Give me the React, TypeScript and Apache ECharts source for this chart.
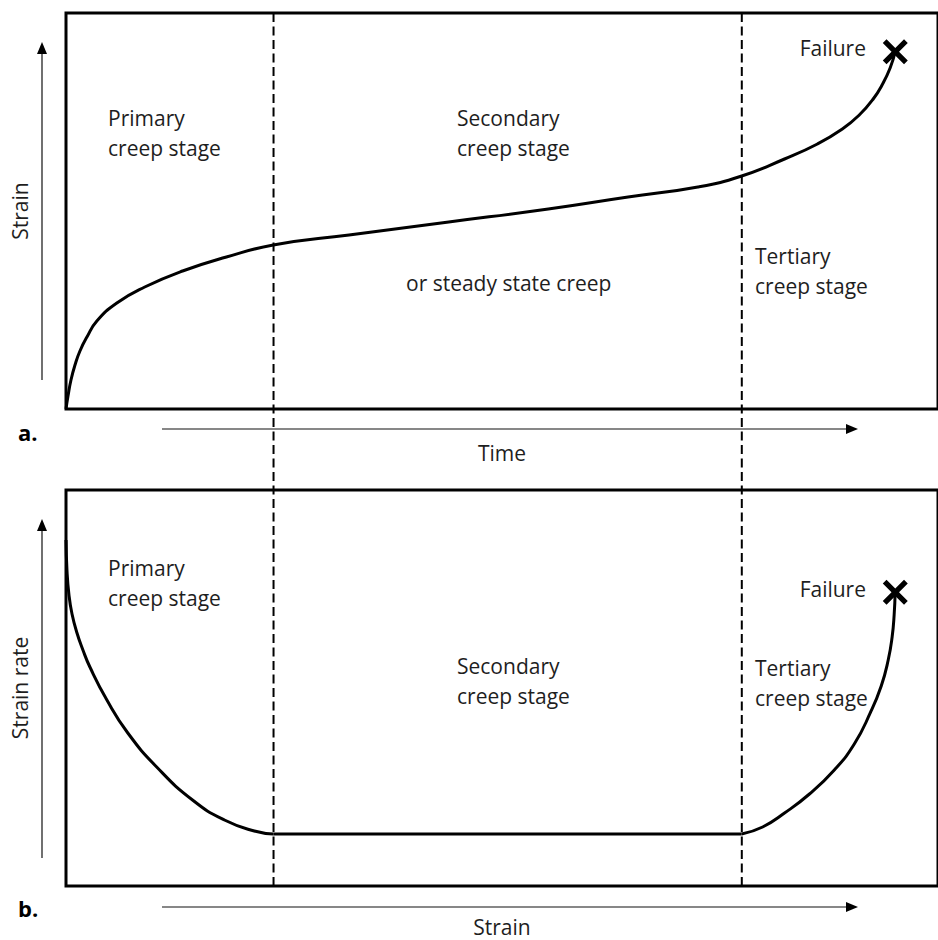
import React, { useEffect, useRef } from "react";
import * as echarts from "echarts";

// Stage boundaries on the shared horizontal scale (0..100)
const stageBoundaries = [23.8, 77.5];

// Panel a: strain vs time
const strainTime: number[][] = [
  [0, 0], [0.23, 3.28], [0.57, 7.32], [1.03, 11.11], [1.6, 14.65], [2.4, 18.18],
  [3.54, 22.22], [5.83, 26.77], [9.03, 30.81], [13.37, 34.85], [18.4, 38.38],
  [23.77, 41.41], [32.46, 43.94], [43.89, 47.22], [55.31, 50.51], [64.46, 53.54],
  [72.46, 56.06], [77.49, 58.84], [82.4, 63.13], [86.17, 66.92], [89.03, 70.71],
  [90.97, 74.24], [92.57, 78.28], [93.71, 82.32], [94.51, 86.11], [95.09, 90.15],
];
const failureA = [95.1, 90.2];

// Panel b: strain rate vs strain, per stage
const rateStagePrimary: number[][] = [
  [0, 87.37], [0.11, 79.8], [0.34, 73.48], [0.69, 68.69], [1.26, 63.89], [1.94, 59.6],
  [2.74, 55.3], [4.69, 46.97], [7.09, 38.64], [10.4, 30.05], [14.51, 21.72],
  [18.17, 16.67], [21.6, 13.89], [23.77, 13.13],
];
const rateStageSecondary: number[][] = [[23.77, 13.13], [77.49, 13.13]];
const rateStageTertiary: number[][] = [
  [77.49, 13.13], [79.89, 14.9], [82.4, 18.43], [85.26, 23.23], [88.11, 29.29],
  [90.4, 35.86], [92.23, 43.69], [93.49, 50.51], [94.29, 57.07], [94.74, 62.88],
  [94.97, 68.43], [95.09, 74.24],
];
const failureB = [95.1, 74.2];

const axisTitles = { aX: "Time", aY: "Strain", bX: "Strain", bY: "Strain rate" };
const panelLetters = ["a.", "b."];
const stageText = {
  primary: "Primary\ncreep stage",
  secondary: "Secondary\ncreep stage",
  steady: "or steady state creep",
  tertiary: "Tertiary\ncreep stage",
  failure: "Failure",
};

const FONT = '"Open Sans", "Noto Sans", sans-serif';
const TXT = "#1e1e1e";
const X_PATH =
  "path://M1.5,0 L5,3.5 L8.5,0 L10,1.5 L6.5,5 L10,8.5 L8.5,10 L5,6.5 L1.5,10 L0,8.5 L3.5,5 L0,1.5 Z";

function txt(text: string, x: number, y: number, align = "left", extra: any = {}) {
  return {
    type: "text",
    x,
    y,
    silent: true,
    style: {
      text,
      fill: TXT,
      font: `21px ${FONT}`,
      align,
      verticalAlign: "middle",
      lineHeight: 30,
      ...extra,
    },
  };
}

function arrowV(x: number, yBottom: number, yTip: number) {
  return [
    { type: "line", shape: { x1: x, y1: yBottom, x2: x, y2: yTip + 10 }, style: { stroke: "#111", lineWidth: 1.2 } },
    { type: "polygon", shape: { points: [[x, yTip], [x - 5, yTip + 12], [x + 5, yTip + 12]] }, style: { fill: "#000" } },
  ];
}
function arrowH(y: number, xStart: number, xTip: number) {
  return [
    { type: "line", shape: { x1: xStart, y1: y, x2: xTip - 10, y2: y }, style: { stroke: "#111", lineWidth: 1.2 } },
    { type: "polygon", shape: { points: [[xTip, y], [xTip - 12, y - 5], [xTip - 12, y + 5]] }, style: { fill: "#000" } },
  ];
}

export default function App() {
  const ref = useRef<HTMLDivElement>(null);
  useEffect(() => {
    if (!ref.current) return;
    const chart = echarts.init(ref.current, undefined, { renderer: "svg" });
    const hiddenAxis = {
      type: "value",
      min: 0,
      max: 100,
      axisLine: { show: false },
      axisTick: { show: false },
      axisLabel: { show: false },
      splitLine: { show: false },
      nameLocation: "middle",
      nameTextStyle: { fontFamily: FONT, fontSize: 21, color: TXT, lineHeight: 16, verticalAlign: "middle" },
    };
    const gridBox = { left: 66, right: -3, height: 396, show: true, borderColor: "#000", borderWidth: 3, backgroundColor: "transparent" };
    const curve = (xi: number, data: number[][], smooth = 0.5) => ({
      type: "line", xAxisIndex: xi, yAxisIndex: xi, data, smooth,
      showSymbol: false, lineStyle: { color: "#000", width: 3 }, clip: false,
    });
    const failure = (xi: number, point: number[]) => ({
      type: "scatter", xAxisIndex: xi, yAxisIndex: xi, data: [point], symbol: X_PATH,
      symbolSize: 25, itemStyle: { color: "#000", opacity: 1 }, z: 5,
    });
    const option: any = {
      animation: false,
      backgroundColor: "#fff",
      grid: [
        { ...gridBox, top: 13 },
        { ...gridBox, top: 490 },
        { left: 66, right: -3, top: 13, bottom: 54, show: false },
      ],
      xAxis: [
        { ...hiddenAxis, gridIndex: 0, name: axisTitles.aX, nameGap: 44 },
        { ...hiddenAxis, gridIndex: 1, name: axisTitles.bX, nameGap: 41 },
        { ...hiddenAxis, gridIndex: 2 },
      ],
      yAxis: [
        { ...hiddenAxis, gridIndex: 0, name: axisTitles.aY, nameGap: 46 },
        { ...hiddenAxis, gridIndex: 1, name: axisTitles.bY, nameGap: 46 },
        { ...hiddenAxis, gridIndex: 2, max: 1 },
      ],
      series: [
        curve(0, strainTime),
        failure(0, failureA),
        curve(1, rateStagePrimary),
        curve(1, rateStageSecondary, 0),
        curve(1, rateStageTertiary),
        failure(1, failureB),
        ...stageBoundaries.map((b) => ({
          type: "line", xAxisIndex: 2, yAxisIndex: 2, data: [[b, 0], [b, 1]],
          showSymbol: false, lineStyle: { color: "#000", width: 2, type: [9, 4.5] },
        })),
      ],
      graphic: [
        ...arrowV(42, 380, 42),
        ...arrowH(429, 162, 858),
        ...arrowV(42, 858, 519),
        ...arrowH(907, 162, 858),
        txt(panelLetters[0], 18, 432, "left", { font: `bold 22px ${FONT}`, fill: "#000" }),
        txt(panelLetters[1], 18, 908, "left", { font: `bold 22px ${FONT}`, fill: "#000" }),
        // panel a
        txt(stageText.primary, 108, 133),
        txt(stageText.secondary, 457, 133),
        txt(stageText.steady, 406, 283),
        txt(stageText.tertiary, 755, 271),
        txt(stageText.failure, 866, 48, "right"),
        // panel b
        txt(stageText.primary, 108, 583),
        txt(stageText.secondary, 457, 681),
        txt(stageText.tertiary, 755, 683),
        txt(stageText.failure, 866, 589, "right"),
      ],
    };
    chart.setOption(option);
    return () => chart.dispose();
  }, []);
  return (
    <div
      ref={ref}
      style={{ position: "absolute", left: 0, top: 0, width: 938, height: 940, background: "#fff" }}
    />
  );
}
